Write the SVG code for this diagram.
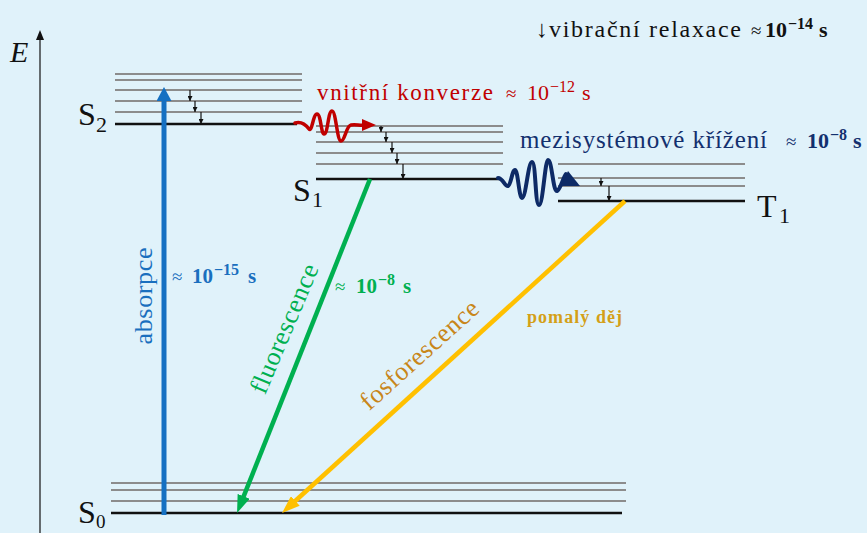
<svg xmlns="http://www.w3.org/2000/svg" width="867" height="533" viewBox="0 0 867 533">
<defs>
<style>
.bg{fill:#E0F2FA}
.vib{stroke:#8C8C8C;stroke-width:2}
.gnd{stroke:#111;stroke-width:2.5}
.vr{stroke:#111;stroke-width:1.2;marker-end:url(#mv)}
.ser{font-family:"Liberation Serif","Times New Roman",serif}
.lab{font-size:32px;fill:#111}
.sub{font-size:22px}
.bold{font-weight:bold}
</style>
<marker id="mv" viewBox="0 0 6 6" refX="6" refY="3" markerWidth="5" markerHeight="5" markerUnits="userSpaceOnUse" orient="auto"><path d="M0,0 L6,3 L0,6 z" fill="#111"/></marker>
<marker id="mE" viewBox="0 0 10 8" refX="1" refY="4" markerWidth="10" markerHeight="8" markerUnits="userSpaceOnUse" orient="auto"><path d="M0,0 L10,4 L0,8 z" fill="#111"/></marker>
<marker id="mB" viewBox="0 0 14 15" refX="2" refY="7.5" markerWidth="14" markerHeight="15" markerUnits="userSpaceOnUse" orient="auto"><path d="M0,0 L14,7.5 L0,15 z" fill="#1570C2"/></marker>
<marker id="mG" viewBox="0 0 18 13" refX="2" refY="6.5" markerWidth="18" markerHeight="13" markerUnits="userSpaceOnUse" orient="auto"><path d="M0,0 L18,6.5 L0,13 z" fill="#00B050"/></marker>
<marker id="mO" viewBox="0 0 18 13" refX="2" refY="6.5" markerWidth="18" markerHeight="13" markerUnits="userSpaceOnUse" orient="auto"><path d="M0,0 L18,6.5 L0,13 z" fill="#FFC000"/></marker>
</defs>
<rect class="bg" x="0" y="0" width="867" height="533"/>

<g id="axis">
<line x1="40" y1="533" x2="40" y2="39" stroke="#111" stroke-width="1.2" marker-end="url(#mE)"/>
<text class="ser" x="10" y="62" font-size="30" font-style="italic" fill="#111">E</text>
</g>

<g id="S2">
<line class="vib" x1="115" y1="74" x2="302" y2="74"/>
<line class="vib" x1="115" y1="80" x2="302" y2="80"/>
<line class="vib" x1="115" y1="90" x2="302" y2="90"/>
<line class="vib" x1="115" y1="101" x2="302" y2="101"/>
<line class="vib" x1="115" y1="112" x2="302" y2="112"/>
<line class="gnd" x1="115" y1="124" x2="297" y2="124"/>
<line class="vr" x1="190" y1="90" x2="190" y2="101"/>
<line class="vr" x1="195" y1="101" x2="195" y2="112"/>
<line class="vr" x1="201" y1="112" x2="201" y2="124"/>
<text class="ser lab" x="78" y="125">S<tspan class="sub" x="96" y="132">2</tspan></text>
</g>

<g id="S1">
<line class="vib" x1="316" y1="126" x2="503" y2="126"/>
<line class="vib" x1="316" y1="132" x2="503" y2="132"/>
<line class="vib" x1="316" y1="142" x2="503" y2="142"/>
<line class="vib" x1="316" y1="153" x2="503" y2="153"/>
<line class="vib" x1="316" y1="164" x2="503" y2="164"/>
<line class="gnd" x1="316" y1="179" x2="500" y2="179"/>
<line class="vr" x1="381" y1="126" x2="381" y2="132"/>
<line class="vr" x1="386" y1="132" x2="386" y2="142"/>
<line class="vr" x1="392" y1="142" x2="392" y2="153"/>
<line class="vr" x1="397" y1="153" x2="397" y2="164"/>
<line class="vr" x1="403" y1="164" x2="403" y2="179"/>
<text class="ser lab" x="293" y="201">S<tspan class="sub" x="312" y="207">1</tspan></text>
</g>

<g id="T1">
<line class="vib" x1="558" y1="164" x2="745" y2="164"/>
<line class="vib" x1="558" y1="178" x2="745" y2="178"/>
<line class="vib" x1="558" y1="186" x2="745" y2="186"/>
<line class="gnd" x1="558" y1="201" x2="745" y2="201"/>
<line class="vr" x1="601" y1="178" x2="601" y2="186"/>
<line class="vr" x1="609" y1="186" x2="609" y2="201"/>
<text class="ser lab" x="757" y="217">T<tspan class="sub" x="779" y="223">1</tspan></text>
</g>

<g id="S0">
<line class="vib" x1="111" y1="483" x2="626" y2="483"/>
<line class="vib" x1="111" y1="490" x2="626" y2="490"/>
<line class="vib" x1="111" y1="501" x2="626" y2="501"/>
<line class="gnd" x1="111" y1="513" x2="622" y2="513"/>
<text class="ser lab" x="78" y="523">S<tspan x="96" y="528" font-size="19">0</tspan></text>
</g>

<g id="connectors">
<line x1="164" y1="515" x2="164" y2="99" stroke="#1570C2" stroke-width="5" marker-end="url(#mB)"/>
<line x1="370" y1="179" x2="242.96" y2="498.15" stroke="#00B050" stroke-width="4.5" marker-end="url(#mG)"/>
<line x1="625" y1="201" x2="293.85" y2="502.25" stroke="#FFC000" stroke-width="4.5" marker-end="url(#mO)"/>
<path d="M295,123 C302,121 306,125 309,129 C312,133 313,114 317,114 C321,114 321,134 324,134 C328,134 328,111 332,111 C336,111 337,141 341,141 C345,141 346,126 351,125 C356,124 360,126 366,125" fill="none" stroke="#C00000" stroke-width="3.5" stroke-linecap="round"/>
<polygon points="362,119 376,125 362,131" fill="#C00000"/>
<path d="M498,178 C503,178 505,187 508,186 C511,185 512,170 515,170 C518,170 519,198 522,198 C526,198 528,162 532,162 C536,162 535,205 539,205 C543,205 545,160 548,160 C552,160 553,192 557,191 C560,190 563,178 566,174" fill="none" stroke="#0D2A66" stroke-width="4" stroke-linecap="round"/>
<polygon points="561,186 568,171 580,186" fill="#0D2A66"/>
</g>

<g id="labels">
<text class="ser" y="37" font-size="24" fill="#111"><tspan x="536">↓</tspan><tspan x="549" textLength="192" lengthAdjust="spacing">vibrační relaxace</tspan><tspan x="751" font-size="19">≈</tspan><tspan class="bold" x="765" font-size="22">10</tspan><tspan class="bold" x="788" y="29" font-size="16">−14</tspan><tspan class="bold" x="819" y="37" font-size="22">s</tspan></text>

<text class="ser" y="100" font-size="23" fill="#C00000"><tspan x="317" textLength="176" lengthAdjust="spacing">vnitřní konverze</tspan><tspan x="506" font-size="19">≈</tspan><tspan x="527" font-size="22">10</tspan><tspan x="550" y="92" font-size="16">−12</tspan><tspan x="582" y="100" font-size="22">s</tspan></text>

<text class="ser" y="148" font-size="25" fill="#13306E"><tspan x="520" textLength="247" lengthAdjust="spacing">mezisystémové křížení</tspan><tspan x="786" font-size="19">≈</tspan><tspan class="bold" x="807" font-size="22">10</tspan><tspan class="bold" x="830" y="140" font-size="16">−8</tspan><tspan class="bold" x="853" y="148" font-size="22">s</tspan></text>

<text class="ser" transform="translate(152,296) rotate(-90)" text-anchor="middle" font-size="26" fill="#1A6FBE" textLength="97" lengthAdjust="spacing">absorpce</text>
<text class="ser" y="283" fill="#1A6FBE"><tspan x="172" font-size="19">≈</tspan><tspan class="bold" x="192" font-size="21">10</tspan><tspan class="bold" x="214" y="275" font-size="16">−15</tspan><tspan class="bold" x="248" y="283" font-size="21">s</tspan></text>

<text class="ser" transform="translate(292,332) rotate(-67)" text-anchor="middle" font-size="26" fill="#00B050" textLength="138" lengthAdjust="spacing">fluorescence</text>
<text class="ser" y="293" fill="#00B050"><tspan x="335" font-size="19">≈</tspan><tspan class="bold" x="356" font-size="21">10</tspan><tspan class="bold" x="378" y="285" font-size="16">−8</tspan><tspan class="bold" x="403" y="293" font-size="21">s</tspan></text>

<text class="ser" transform="translate(425,361) rotate(-42)" text-anchor="middle" font-size="26" fill="#C8861A" textLength="150" lengthAdjust="spacing">fosforescence</text>
<text class="ser bold" x="527" y="323" font-size="18" fill="#D4A017" textLength="95" lengthAdjust="spacing">pomalý děj</text>
</g>
</svg>
